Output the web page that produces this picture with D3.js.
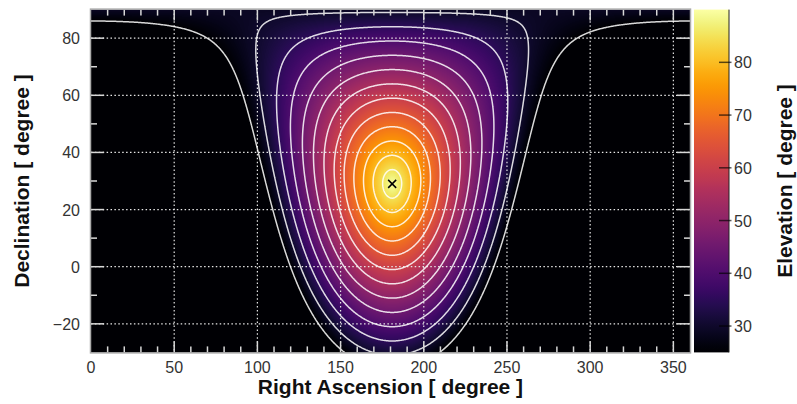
<!DOCTYPE html>
<html>
<head>
<meta charset="utf-8">
<script src="https://cdn.jsdelivr.net/npm/d3@7"></script>
<style>
	body { margin: 0; background: #fff; }
	svg { display: block; font-family: "Liberation Sans", Arial, sans-serif; }
	text.tick-label { font-size: 16px; fill: #333; }
	text.title { font-size: 21px; font-weight: bold; fill: #111; }
	.grid line { stroke: #e6e6e6; stroke-width: 1.2; stroke-dasharray: 1.5 2.4; }
	.ticks line { stroke: #d8d8d8; stroke-width: 1.5; }
	path.contour { fill: none; stroke: rgba(255,255,255,0.85); stroke-width: 1.5; }
</style>
</head>
<body>
<div id="chart"></div>
<script>
// sky position of the zenith (the x marker)
const SITE_LAT = 29;     // deg, declination of the zenith
const ZENITH_RA = 181;   // deg, local sidereal time

const raDomain = [0, 360];
const decDomain = [-30, 90];
const elevDomain = [25, 90];

const raTicks = [0, 50, 100, 150, 200, 250, 300, 350];
const raMinorTicks = d3.range(10, 360, 10);
const decTicks = [-20, 0, 20, 40, 60, 80];
const decMinorTicks = d3.range(-20, 90, 10);
const elevTicks = [30, 40, 50, 60, 70, 80];
const contourLevels = [25, 30, 35, 40, 45, 50, 55, 60, 65, 70, 75, 80, 85];

const width = 797, height = 404;
const pLeft = 91, pRight = 690, pTop = 9.6, pBottom = 352.4;

const x = d3.scaleLinear().domain(raDomain).range([pLeft, pRight]);
const y = d3.scaleLinear().domain(decDomain).range([pBottom, pTop]);
const color = d3.scaleSequential(d3.interpolateInferno).domain(elevDomain).clamp(true);

const rad = Math.PI / 180;
function elevation(ra, dec) {
	const h = (ra - ZENITH_RA) * rad;
	const s = Math.sin(dec * rad) * Math.sin(SITE_LAT * rad) +
		Math.cos(dec * rad) * Math.cos(SITE_LAT * rad) * Math.cos(h);
	return Math.asin(Math.max(-1, Math.min(1, s))) / rad;
}

const svg = d3.select("#chart").append("svg")
	.attr("width", width)
	.attr("height", height);

// heat map, one canvas pixel per screen pixel
const W = Math.round(pRight - pLeft), H = Math.round(pBottom - pTop);
const canvas = document.createElement("canvas");
canvas.width = W;
canvas.height = H;
const ctx = canvas.getContext("2d");
const img = ctx.createImageData(W, H);
const lut = d3.range(256).map(i => d3.rgb(d3.interpolateInferno(i / 255)));
for (let j = 0; j < H; j++) {
	const dec = y.invert(pTop + j + 0.5);
	for (let i = 0; i < W; i++) {
		const ra = x.invert(pLeft + i + 0.5);
		const t = (elevation(ra, dec) - elevDomain[0]) / (elevDomain[1] - elevDomain[0]);
		const c = lut[Math.round(Math.max(0, Math.min(1, t)) * 255)];
		const k = (j * W + i) * 4;
		img.data[k] = c.r; img.data[k + 1] = c.g; img.data[k + 2] = c.b; img.data[k + 3] = 255;
	}
}
ctx.putImageData(img, 0, 0);

const defs = svg.append("defs");
defs.append("clipPath").attr("id", "plot-clip")
	.append("rect")
	.attr("x", pLeft).attr("y", pTop)
	.attr("width", pRight - pLeft).attr("height", pBottom - pTop);

svg.append("image")
	.attr("x", pLeft).attr("y", pTop)
	.attr("width", W).attr("height", H)
	.attr("preserveAspectRatio", "none")
	.attr("href", canvas.toDataURL());

// dotted grid
const grid = svg.append("g").attr("class", "grid");
grid.selectAll("line.v").data(raTicks.filter(d => d > 0))
	.join("line")
	.attr("x1", d => x(d)).attr("x2", d => x(d))
	.attr("y1", pTop).attr("y2", pBottom);
grid.selectAll("line.h").data(decTicks)
	.join("line")
	.attr("x1", pLeft).attr("x2", pRight)
	.attr("y1", d => y(d)).attr("y2", d => y(d));

// contours on a grid a bit wider than the plot
const step = 0.5;
const raGrid = d3.range(-4, 364 + 1e-9, step);
const decGrid = d3.range(-34, 90 + 1e-9, step);
const n = raGrid.length, m = decGrid.length;
const values = new Float64Array(n * m);
for (let j = 0; j < m; j++)
	for (let i = 0; i < n; i++)
		values[i + j * n] = elevation(raGrid[i], decGrid[j]);

const contours = d3.contours().size([n, m]).thresholds(contourLevels)(values);

const gx = c => x(raGrid[0] + (c - 0.5) * step);
const gy = c => y(decGrid[0] + (c - 0.5) * step);
const onEdge = p => p[0] === 0 || p[0] === n || p[1] === 0 || p[1] === m;
const sameEdge = (a, b) => (a[0] === b[0] && (a[0] === 0 || a[0] === n)) ||
	(a[1] === b[1] && (a[1] === 0 || a[1] === m));

function ringsPath(geom) {
	let d = "";
	geom.coordinates.forEach(poly => poly.forEach(ring => {
		let pen = false;
		for (let k = 0; k < ring.length; k++) {
			const p = ring[k];
			const prev = k > 0 ? ring[k - 1] : null;
			if (prev && onEdge(prev) && onEdge(p) && sameEdge(prev, p)) { pen = false; continue; }
			d += (pen ? "L" : "M") + gx(p[0]).toFixed(2) + "," + gy(p[1]).toFixed(2);
			pen = true;
		}
	}));
	return d;
}

svg.append("g")
	.attr("clip-path", "url(#plot-clip)")
	.selectAll("path")
	.data(contours)
	.join("path")
	.attr("class", "contour")
	.attr("d", ringsPath);

// zenith marker
const zx = x(ZENITH_RA), zy = y(SITE_LAT);
svg.append("path")
	.attr("d", `M${zx - 4},${zy - 4}L${zx + 4},${zy + 4}M${zx - 4},${zy + 4}L${zx + 4},${zy - 4}`)
	.attr("stroke", "#000")
	.attr("stroke-width", 1.5);

// inward ticks on all four sides
const ticks = svg.append("g").attr("class", "ticks");
const xt = raMinorTicks.map(d => ({ v: d, len: d % 50 === 0 ? 11 : 6 }));
const yt = decMinorTicks.map(d => ({ v: d, len: d % 20 === 0 ? 13 : 6 }));
ticks.selectAll("line.b").data(xt).join("line")
	.attr("x1", d => x(d.v)).attr("x2", d => x(d.v))
	.attr("y1", pBottom).attr("y2", d => pBottom - d.len);
ticks.selectAll("line.t").data(xt).join("line")
	.attr("x1", d => x(d.v)).attr("x2", d => x(d.v))
	.attr("y1", pTop).attr("y2", d => pTop + d.len);
ticks.selectAll("line.l").data(yt).join("line")
	.attr("x1", pLeft).attr("x2", d => pLeft + d.len)
	.attr("y1", d => y(d.v)).attr("y2", d => y(d.v));
ticks.selectAll("line.r").data(yt).join("line")
	.attr("x1", pRight).attr("x2", d => pRight - d.len)
	.attr("y1", d => y(d.v)).attr("y2", d => y(d.v));

svg.append("rect")
	.attr("x", pLeft - 0.5).attr("y", pTop - 0.5)
	.attr("width", pRight - pLeft + 1).attr("height", pBottom - pTop + 1)
	.attr("fill", "none")
	.attr("stroke", "#ababab")
	.attr("stroke-width", 1.5);

// tick labels
svg.append("g").selectAll("text").data(raTicks).join("text")
	.attr("class", "tick-label")
	.attr("x", d => x(d)).attr("y", 373)
	.attr("text-anchor", "middle")
	.text(d => d);
svg.append("g").selectAll("text").data(decTicks).join("text")
	.attr("class", "tick-label")
	.attr("x", 80).attr("y", d => y(d) + 6)
	.attr("text-anchor", "end")
	.text(d => d < 0 ? "\u2212" + (-d) : d);

// colour bar
const cb = { x0: 694, x1: 729 };
const cy = d3.scaleLinear().domain(elevDomain).range([pBottom, pTop]);
const grad = defs.append("linearGradient")
	.attr("id", "cbar")
	.attr("x1", 0).attr("y1", 1).attr("x2", 0).attr("y2", 0);
grad.selectAll("stop").data(d3.range(0, 1.0001, 0.02)).join("stop")
	.attr("offset", d => d)
	.attr("stop-color", d => color(elevDomain[0] + d * (elevDomain[1] - elevDomain[0])));
svg.append("rect")
	.attr("x", cb.x0).attr("y", pTop)
	.attr("width", cb.x1 - cb.x0).attr("height", pBottom - pTop)
	.attr("fill", "url(#cbar)");
svg.append("line")
	.attr("x1", cb.x1).attr("x2", cb.x1)
	.attr("y1", pTop).attr("y2", pBottom)
	.attr("stroke", "#222").attr("stroke-width", 1);
svg.append("g").selectAll("line").data(elevTicks).join("line")
	.attr("x1", cb.x1 - 10).attr("x2", cb.x1 + 2.5)
	.attr("y1", d => cy(d)).attr("y2", d => cy(d))
	.attr("stroke", "#000").attr("stroke-opacity", 0.65).attr("stroke-width", 1.5);
svg.append("g").selectAll("text").data(elevTicks).join("text")
	.attr("class", "tick-label")
	.attr("x", 734).attr("y", d => cy(d) + 6)
	.text(d => d);

// axis titles
svg.append("text")
	.attr("class", "title")
	.attr("x", (pLeft + pRight) / 2).attr("y", 394)
	.attr("text-anchor", "middle")
	.text("Right Ascension [ degree ]");
svg.append("text")
	.attr("class", "title")
	.attr("transform", `translate(29,${(pTop + pBottom) / 2}) rotate(-90)`)
	.attr("text-anchor", "middle")
	.text("Declination [ degree ]");
svg.append("text")
	.attr("class", "title")
	.attr("transform", `translate(792,${(pTop + pBottom) / 2}) rotate(-90)`)
	.attr("text-anchor", "middle")
	.text("Elevation [ degree ]");
</script>
</body>
</html>
